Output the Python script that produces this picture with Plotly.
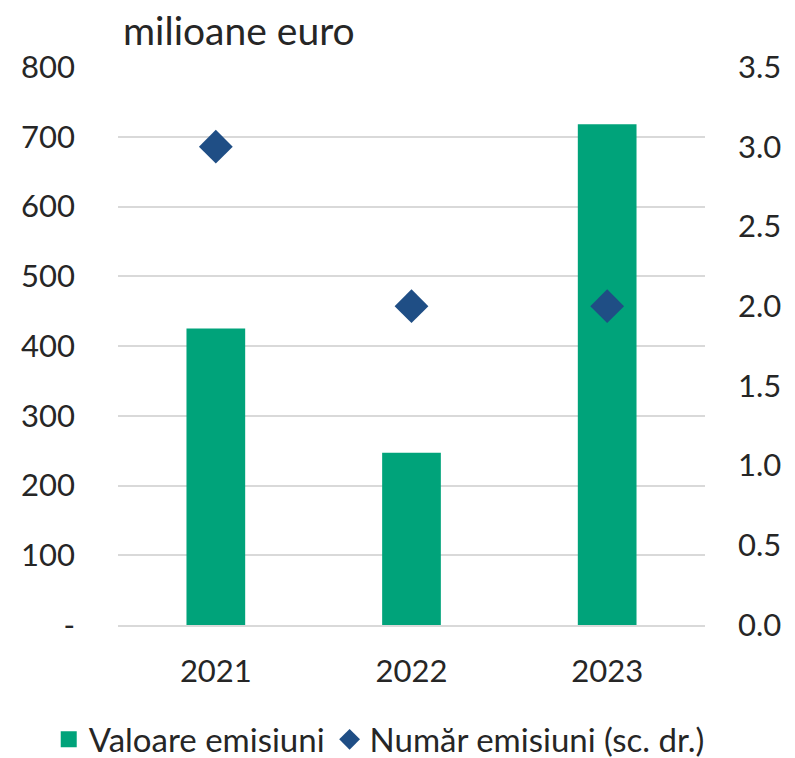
import plotly.graph_objects as go

years = ["2021", "2022", "2023"]
valoare = [425, 247, 718]
numar = [3, 2, 2]

left_ticks = [0, 100, 200, 300, 400, 500, 600, 700, 800]
left_labels = ["-", "100", "200", "300", "400", "500", "600", "700", "800"]
right_ticks = [0, 0.5, 1.0, 1.5, 2.0, 2.5, 3.0, 3.5]
right_labels = ["0.0", "0.5", "1.0", "1.5", "2.0", "2.5", "3.0", "3.5"]

FONT = "Lato, 'Open Sans', sans-serif"
TXT = "#262626"
GREEN = "#00A37A"
BLUE = "#1F4E85"

fig = go.Figure()
fig.add_trace(go.Bar(
    x=years, y=valoare, name="Valoare emisiuni",
    marker=dict(color=GREEN, line=dict(width=0)),
    width=0.3, yaxis="y", showlegend=False,
))
# legend proxy with a larger square swatch (as in the reference legend)
fig.add_trace(go.Scatter(
    x=[None], y=[None], name="Valoare emisiuni", mode="markers", yaxis="y",
    marker=dict(symbol="square", size=20, color=GREEN),
))
fig.add_trace(go.Scatter(
    x=years, y=numar, name="Număr emisiuni (sc. dr.)",
    mode="markers", yaxis="y2",
    marker=dict(symbol="diamond", size=26, color=BLUE),
))

fig.update_layout(
    width=795, height=758,
    margin=dict(l=110, r=98, t=59, b=141, autoexpand=False),
    paper_bgcolor="white", plot_bgcolor="white",
    font=dict(family=FONT, size=30, color=TXT),
    showlegend=True,
    legend=dict(orientation="h", x=-0.118, xanchor="left",
                y=-0.205, yanchor="middle",
                font=dict(size=33, color=TXT), itemsizing="trace",
                traceorder="normal", itemwidth=30, tracegroupgap=0),
    xaxis=dict(showgrid=False, showline=True, linecolor="#d9d9d9", linewidth=2,
               ticks="", tickfont=dict(size=31, color=TXT), ticklabelstandoff=18,
               automargin=False),
    yaxis=dict(range=[0, 800], tickvals=left_ticks, ticktext=left_labels,
               showgrid=True, gridcolor="#d9d9d9", gridwidth=2, zeroline=False,
               showline=False, ticks="", tickfont=dict(size=31, color=TXT),
               ticklabelstandoff=42, automargin=False),
    yaxis2=dict(range=[0, 3.5], tickvals=right_ticks, ticktext=right_labels,
                overlaying="y", side="right", showgrid=False, zeroline=False,
                showline=False, ticks="", tickfont=dict(size=31, color=TXT),
                ticklabelstandoff=32, automargin=False),
    annotations=[dict(text="milioane euro", xref="paper", yref="paper",
                      x=0.0, y=1.0, xanchor="left", yanchor="bottom", yshift=12,
                      xshift=3, showarrow=False, font=dict(size=39, color=TXT))],
)

fig.write_html("out.html")
